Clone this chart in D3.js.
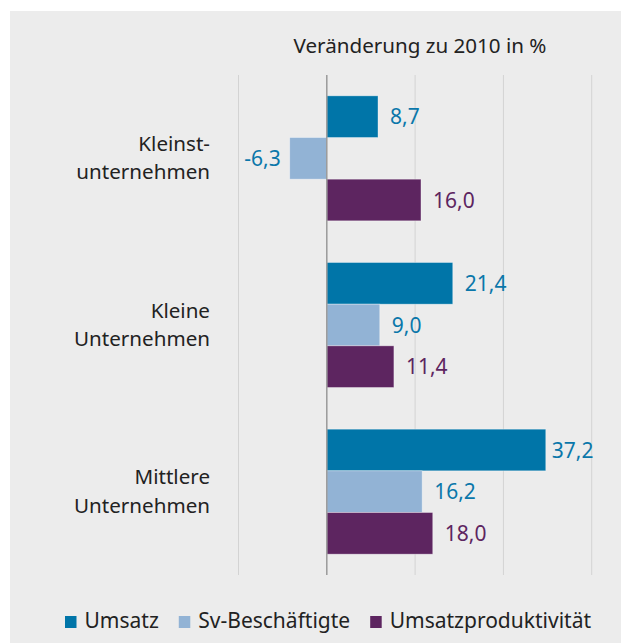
<!DOCTYPE html>
<html><head><meta charset="utf-8">
<script src="https://cdn.jsdelivr.net/npm/d3@7"></script>
<style>
html,body{margin:0;padding:0;background:#fff;}
text{font-family:"Noto Sans",sans-serif;}
</style></head>
<body><svg id="chart" width="621" height="643"></svg>
<script>
const categories = [["Kleinst-","unternehmen"],["Kleine","Unternehmen"],["Mittlere","Unternehmen"]];
const categoryKeys = ["Kleinstunternehmen","Kleine Unternehmen","Mittlere Unternehmen"];
const seriesNames = ["Umsatz","Sv-Beschäftigte","Umsatzproduktivität"];
const umsatz = [8.7, 21.4, 37.2];
const beschaeftigte = [-6.3, 9.0, 16.2];
const produktivitaet = [16.0, 11.4, 18.0];
const gridTicks = [-15, 0, 15, 30, 45];
const title = "Veränderung zu 2010 in %";

const colors = ["#0075a8", "#92b3d5", "#5d2560"];
const labelColors = ["#0a77aa", "#0a77aa", "#5d2560"];
const seriesValues = [umsatz, beschaeftigte, produktivitaet];

const svg = d3.select("#chart");
svg.append("rect").attr("x",10).attr("y",11).attr("width",611).attr("height",632).attr("fill","#ececec");

const x = d3.scaleLinear().domain([-15,45]).range([238.5,591.7]);
const y = d3.scaleBand().domain(categoryKeys).range([75,575]).paddingInner(0.25).paddingOuter(0.125);
const ys = d3.scaleBand().domain(seriesNames).range([0,y.bandwidth()]);

// grid
svg.append("g").selectAll("line").data(gridTicks.filter(d=>d!==0)).join("line")
  .attr("x1",d=>x(d)).attr("x2",d=>x(d)).attr("y1",75).attr("y2",575)
  .attr("stroke","#d3d3d3").attr("stroke-width",1);

svg.append("text").attr("x",420).attr("y",53).attr("text-anchor","middle")
  .attr("font-size",20.6).attr("fill","#222").text(title);

const data = [];
categoryKeys.forEach((c,i)=>seriesNames.forEach((s,j)=>data.push({c,s,j,v:seriesValues[j][i]})));

svg.append("g").selectAll("rect").data(data).join("rect")
  .attr("x",d=>x(Math.min(0,d.v)))
  .attr("width",d=>Math.abs(x(d.v)-x(0)))
  .attr("y",d=>y(d.c)+ys(d.s))
  .attr("height",ys.bandwidth())
  .attr("fill",d=>colors[d.j])
  .attr("stroke","rgba(255,255,255,0.45)").attr("stroke-width",0.8);

// zero line
svg.append("line").attr("x1",x(0)).attr("x2",x(0)).attr("y1",75).attr("y2",575)
  .attr("stroke","#9a9a9a").attr("stroke-width",1.5);

svg.append("g").selectAll("text").data(data).join("text")
  .attr("x",d=>d.v<0 ? x(d.v)-9 : x(d.v)+(d.v>35?6:12))
  .attr("y",d=>y(d.c)+ys(d.s)+ys.bandwidth()/2)
  .attr("dy","0.36em")
  .attr("text-anchor",d=>d.v<0?"end":"start")
  .attr("font-size",21).attr("fill",d=>labelColors[d.j])
  .text(d=>d3.format(".1f")(d.v).replace(".",",").replace("−","-"));

// category labels
const cat = svg.append("g").selectAll("text").data(categoryKeys).join("text")
  .attr("text-anchor","end").attr("font-size",20.6).attr("fill","#222");
cat.each(function(d,i){
  const c = y(d)+y.bandwidth()/2;
  d3.select(this).append("tspan").attr("x",210).attr("y",c-7.5).text(categories[i][0]);
  d3.select(this).append("tspan").attr("x",210).attr("y",c+21).text(categories[i][1]);
});

// legend
let lx = 65;
seriesNames.forEach((name,i)=>{
  const g = svg.append("g").attr("transform",`translate(${lx},616)`);
  g.append("rect").attr("width",11.5).attr("height",12).attr("fill",colors[i]);
  const t = g.append("text").attr("x",19.5).attr("y",12.3).attr("font-size",21).attr("fill","#222").text(name);
  lx += 19.5 + t.node().getComputedTextLength() + 20;
});
</script></body></html>
